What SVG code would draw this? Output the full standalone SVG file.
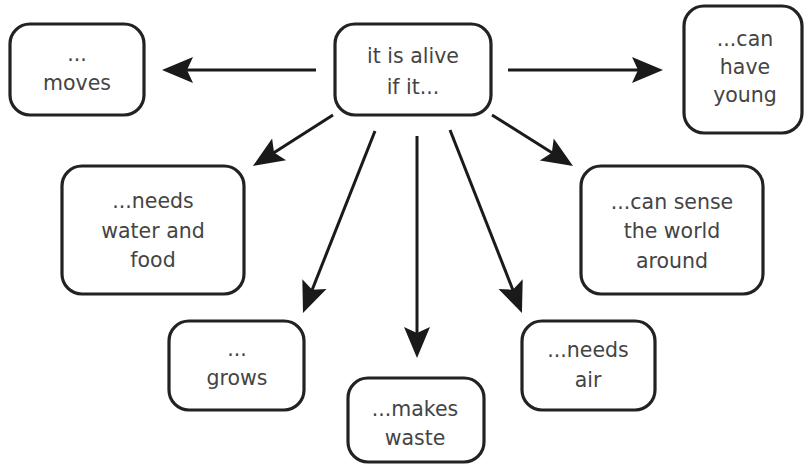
<svg xmlns="http://www.w3.org/2000/svg" width="804" height="470" viewBox="0 0 804 470">
<defs>
<style>
.box{fill:#fff;stroke:#222;stroke-width:3.2}
.t{font-family:"DejaVu Sans","Noto Sans",sans-serif;font-size:20.5px;fill:#444;text-anchor:middle}
.c{stroke:#1a1a1a;stroke-width:3;fill:none;marker-end:url(#ah)}
</style>
<marker id="ah" markerUnits="userSpaceOnUse" viewBox="-12 -16 40 32" markerWidth="40" markerHeight="32" refX="0" refY="0" orient="auto">
<path d="M22,0 L-9,-13 L-3,0 L-9,13 Z" fill="#1a1a1a"/>
</marker>
</defs>
<rect width="804" height="470" fill="#fff"/>
<g id="connectors">
<line class="c" x1="316" y1="70" x2="184" y2="70"/>
<line class="c" x1="508" y1="70" x2="641" y2="70"/>
<line class="c" x1="333" y1="115" x2="271.5" y2="154.2"/>
<line class="c" x1="375" y1="131" x2="311.1" y2="292.5"/>
<line class="c" x1="417" y1="136" x2="417" y2="336"/>
<line class="c" x1="450" y1="130" x2="513.9" y2="292.5"/>
<line class="c" x1="492" y1="115" x2="554.4" y2="154.3"/>
</g>
<g id="center">
<rect class="box" x="335" y="24" width="156" height="91" rx="20"/>
<text class="t" x="413" y="63">it is alive</text>
<text class="t" x="413" y="94">if it...</text>
</g>
<g id="moves">
<rect class="box" x="10" y="24" width="134" height="91" rx="20"/>
<text class="t" x="77" y="61">...</text>
<text class="t" x="77" y="90">moves</text>
</g>
<g id="young">
<rect class="box" x="684" y="6" width="118" height="127" rx="20"/>
<text class="t" x="745" y="46">...can</text>
<text class="t" x="745" y="74">have</text>
<text class="t" x="745" y="102">young</text>
</g>
<g id="water">
<rect class="box" x="62" y="166" width="182" height="128" rx="20"/>
<text class="t" x="153" y="208">...needs</text>
<text class="t" x="153" y="238">water and</text>
<text class="t" x="153" y="267">food</text>
</g>
<g id="sense">
<rect class="box" x="581" y="166" width="182" height="128" rx="20"/>
<text class="t" x="672" y="209">...can sense</text>
<text class="t" x="672" y="238">the world</text>
<text class="t" x="672" y="268">around</text>
</g>
<g id="grows">
<rect class="box" x="169" y="321" width="135" height="89" rx="20"/>
<text class="t" x="237" y="356">...</text>
<text class="t" x="237" y="385">grows</text>
</g>
<g id="waste">
<rect class="box" x="348" y="378" width="136" height="84" rx="20"/>
<text class="t" x="415" y="416">...makes</text>
<text class="t" x="415" y="445">waste</text>
</g>
<g id="air">
<rect class="box" x="522" y="321" width="133" height="89" rx="20"/>
<text class="t" x="588" y="357">...needs</text>
<text class="t" x="588" y="387">air</text>
</g>
</svg>
